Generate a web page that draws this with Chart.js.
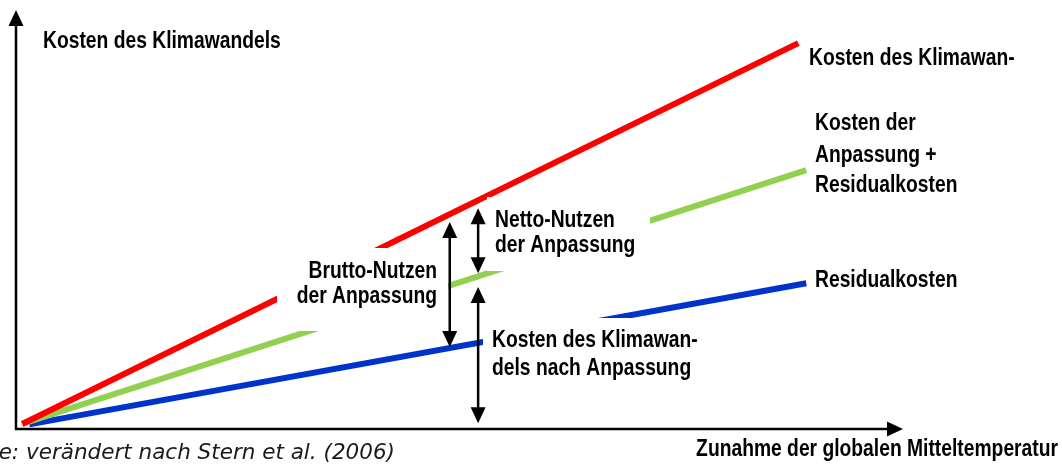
<!DOCTYPE html>
<html lang="de">
<head>
<meta charset="utf-8">
<title>Kosten des Klimawandels</title>
<script src="https://cdn.jsdelivr.net/npm/chart.js@4.4.0/dist/chart.umd.min.js"></script>
<style>
  html, body { margin: 0; padding: 0; background: #fff; }
  #wrap { position: relative; width: 1062px; height: 464px; }
</style>
</head>
<body>
<div id="wrap"><canvas id="chart"></canvas></div>
<script>
// Kostenverläufe: Anfangs- und Endpunkt (x: Temperaturzunahme, y: Kosten, relative Einheiten)
const kostenOhneAnpassung = [{ x: 0.7, y: 1.2 }, { x: 88.2, y: 92.1 }];
const anpassungPlusResidual = [{ x: 0.7, y: 1.2 }, { x: 89.1, y: 61.8 }];
const residualkosten = [{ x: 1.5, y: 1.1 }, { x: 89.1, y: 34.8 }];

// Doppelpfeile: x-Position, oberes und unteres Ende
const pfeilX = [48.9, 52.1, 52.1];
const pfeilOben = [49.4, 52.7, 33.9];
const pfeilUnten = [19.6, 37.2, 1.4];

const farben = { rot: '#ff0000', gruen: '#92d050', blau: '#0033cc' };
// schmale fette Schrift: Liberation Sans, horizontal gestaucht
const schrift = 'bold 23.5px "Liberation Sans", Arial, sans-serif';
const stauchung = 0.82;

// Beschriftungen (weiße Box verdeckt die Linien dahinter)
const textfelder = [
    { zeilen: ['Kosten des Klimawandels'], x: 43, y: [48] },
    { zeilen: ['Brutto-Nutzen', 'der Anpassung'], x: 437, y: [278, 303], align: 'right', box: [277, 248, 171, 83] },
    { zeilen: ['Netto-Nutzen', 'der Anpassung'], x: 495, y: [227, 252], box: [487, 197, 163, 74] },
    { zeilen: ['Kosten des Klimawan-', 'dels nach Anpassung'], x: 492, y: [347, 375], box: [483, 318, 215, 66] },
    { zeilen: ['Kosten des Klimawan-'], x: 809, y: [65] },
    { zeilen: ['Kosten der', 'Anpassung +', 'Residualkosten'], x: 815, y: [130, 162, 192] },
    { zeilen: ['Residualkosten'], x: 815, y: [287] },
    { zeilen: ['Zunahme der globalen Mitteltemperatur'], x: 1058, y: [456], align: 'right' }
];

// Pfeilspitze zeichnen (Richtung: -1 nach oben, 1 nach unten, 'r' nach rechts)
function spitze(ctx, x, y, richtung) {
    ctx.beginPath();
    if (richtung === 'r') {
        ctx.moveTo(x, y);
        ctx.lineTo(x - 16, y - 7.5);
        ctx.lineTo(x - 16, y + 7.5);
    } else {
        ctx.moveTo(x, y);
        ctx.lineTo(x - 7.5, y - 16 * richtung);
        ctx.lineTo(x + 7.5, y - 16 * richtung);
    }
    ctx.closePath();
    ctx.fill();
}

function doppelpfeil(ctx, x, yOben, yUnten) {
    ctx.lineWidth = 2.5;
    ctx.beginPath();
    ctx.moveTo(x, yOben + 10);
    ctx.lineTo(x, yUnten - 10);
    ctx.stroke();
    spitze(ctx, x, yOben, -1);
    spitze(ctx, x, yUnten, 1);
}

const beschriftung = {
    id: 'beschriftung',
    afterDatasetsDraw(chart) {
        const ctx = chart.ctx;
        const sx = chart.scales.x;
        const sy = chart.scales.y;
        const area = chart.chartArea;
        ctx.save();

        // weiße Hintergründe der Textfelder
        ctx.fillStyle = '#fff';
        textfelder.forEach(t => {
            if (t.box) ctx.fillRect(t.box[0], t.box[1], t.box[2], t.box[3]);
        });

        // Texte
        ctx.fillStyle = '#000';
        ctx.font = schrift;
        ctx.textBaseline = 'alphabetic';
        textfelder.forEach(t => {
            ctx.textAlign = t.align || 'left';
            t.zeilen.forEach((z, i) => {
                ctx.save();
                ctx.translate(t.x, t.y[i]);
                ctx.scale(stauchung, 1);
                ctx.fillText(z, 0, 0);
                ctx.restore();
            });
        });

        // Doppelpfeile
        ctx.strokeStyle = '#000';
        pfeilX.forEach((px, i) => {
            doppelpfeil(ctx, sx.getPixelForValue(px), sy.getPixelForValue(pfeilOben[i]), sy.getPixelForValue(pfeilUnten[i]));
        });

        // Achsen mit Pfeilspitzen
        const x0 = sx.getPixelForValue(0);
        const y0 = sy.getPixelForValue(0);
        ctx.lineWidth = 2.5;
        ctx.beginPath();
        ctx.moveTo(x0, y0 + 1);
        ctx.lineTo(x0, area.top + 12);
        ctx.moveTo(x0 - 1, y0);
        ctx.lineTo(area.right - 12, y0);
        ctx.stroke();
        spitze(ctx, x0, area.top, -1);
        spitze(ctx, area.right, y0, 'r');

        // Quellenangabe
        ctx.font = 'italic 21.5px "DejaVu Sans", Verdana, sans-serif';
        ctx.fillStyle = '#1a1a1a';
        ctx.textAlign = 'right';
        ctx.fillText('Quelle: verändert nach Stern et al. (2006)', 395, 459);

        ctx.restore();
    }
};

function linie(label, daten, farbe) {
    return {
        label: label,
        data: daten,
        showLine: true,
        borderColor: farbe,
        borderWidth: 6,
        borderCapStyle: 'butt',
        pointRadius: 0,
        fill: false
    };
}

function erstelleDiagramm() {
    new Chart(document.getElementById('chart'), {
        type: 'scatter',
        data: {
            datasets: [
                linie('Kosten des Klimawandels', kostenOhneAnpassung, farben.rot),
                linie('Kosten der Anpassung + Residualkosten', anpassungPlusResidual, farben.gruen),
                linie('Residualkosten', residualkosten, farben.blau)
            ]
        },
        options: {
            responsive: true,
            maintainAspectRatio: false,
            animation: false,
            layout: { padding: { left: 16, top: 10, right: 159, bottom: 35 } },
            scales: {
                x: { type: 'linear', min: 0, max: 100, display: false },
                y: { type: 'linear', min: 0, max: 100, display: false }
            },
            plugins: {
                legend: { display: false },
                tooltip: { enabled: false }
            }
        },
        plugins: [beschriftung]
    });
}

document.addEventListener('DOMContentLoaded', erstelleDiagramm);
</script>
</body>
</html>
